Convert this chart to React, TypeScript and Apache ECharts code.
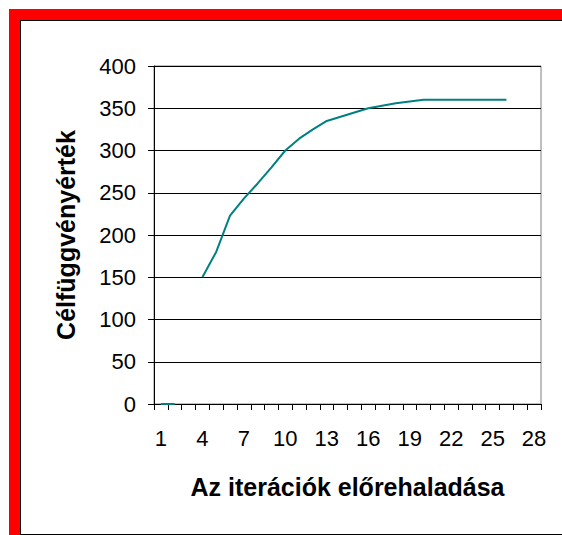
import React, { useEffect, useRef } from "react";
import * as echarts from "echarts";

const categories = [
  "1", "2", "3", "4", "5", "6", "7", "8", "9", "10", "11", "12", "13", "14",
  "15", "16", "17", "18", "19", "20", "21", "22", "23", "24", "25", "26", "27", "28",
];
const objectiveValues: (number | null)[] = [
  0, 0, null, 150, 180, 223, 243, 261, 280, 300, 314, 325, 335, 340,
  345, 350, 353, 356, 358, 360, 360, 360, 360, 360, 360, 360, null, null,
];
const yTicks = { min: 0, max: 400, interval: 50 };
const xTitle = "Az iterációk előrehaladása";
const yTitle = "Célfüggvényérték";

const FONT = "'Liberation Sans', Arial, sans-serif";

export default function App() {
  const ref = useRef<HTMLDivElement>(null);
  useEffect(() => {
    if (!ref.current) return;
    const chart = echarts.init(ref.current, undefined, { renderer: "svg" });
    chart.setOption({
      animation: false,
      backgroundColor: "#ffffff",
      grid: {
        left: 154,
        right: 21,
        top: 66,
        bottom: 131,
        show: true,
        borderColor: "#808080",
        borderWidth: 1,
        backgroundColor: "transparent",
      },
      graphic: [
        { type: "rect", shape: { x: 9, y: 9, width: 553, height: 11 }, style: { fill: "#ff0000" }, z: 100 },
        { type: "rect", shape: { x: 9, y: 9, width: 11, height: 526 }, style: { fill: "#ff0000" }, z: 100 },
        { type: "line", shape: { x1: 20.5, y1: 20, x2: 20.5, y2: 535 }, style: { stroke: "#000", lineWidth: 1 }, z: 100 },
        { type: "line", shape: { x1: 20, y1: 20.5, x2: 562, y2: 20.5 }, style: { stroke: "#000", lineWidth: 1 }, z: 100 },
        { type: "line", shape: { x1: 20, y1: 534.5, x2: 562, y2: 534.5 }, style: { stroke: "#000", lineWidth: 1 }, z: 100 },
      ],
      xAxis: {
        type: "category",
        data: categories,
        boundaryGap: true,
        name: xTitle,
        nameLocation: "middle",
        nameGap: 70,
        nameTextStyle: { fontFamily: FONT, fontSize: 25, fontWeight: "bold", color: "#000" },
        axisLine: { show: true, lineStyle: { color: "#000", width: 1 } },
        axisTick: { show: true, interval: 0, length: 6, lineStyle: { color: "#000" } },
        axisLabel: { interval: 2, margin: 23, fontFamily: FONT, fontSize: 22, color: "#000" },
        splitLine: { show: false },
      },
      yAxis: {
        type: "value",
        min: yTicks.min,
        max: yTicks.max,
        interval: yTicks.interval,
        name: yTitle,
        nameLocation: "middle",
        nameGap: 76,
        nameRotate: 90,
        nameTextStyle: { fontFamily: FONT, fontSize: 25, fontWeight: "bold", color: "#000" },
        axisLine: { show: true, lineStyle: { color: "#000", width: 1 } },
        axisTick: { show: true, length: 6, lineStyle: { color: "#000" } },
        axisLabel: { margin: 18, fontFamily: FONT, fontSize: 22, color: "#000" },
        splitLine: { show: true, lineStyle: { color: "#000", width: 1 } },
      },
      series: [
        {
          type: "line",
          data: objectiveValues,
          showSymbol: false,
          symbol: "none",
          connectNulls: false,
          lineStyle: { color: "#008080", width: 2 },
          itemStyle: { color: "#008080" },
        },
      ],
    });
    return () => chart.dispose();
  }, []);
  return (
    <div
      ref={ref}
      style={{ position: "fixed", left: 0, top: 0, width: 562, height: 535, background: "#fff" }}
    />
  );
}
